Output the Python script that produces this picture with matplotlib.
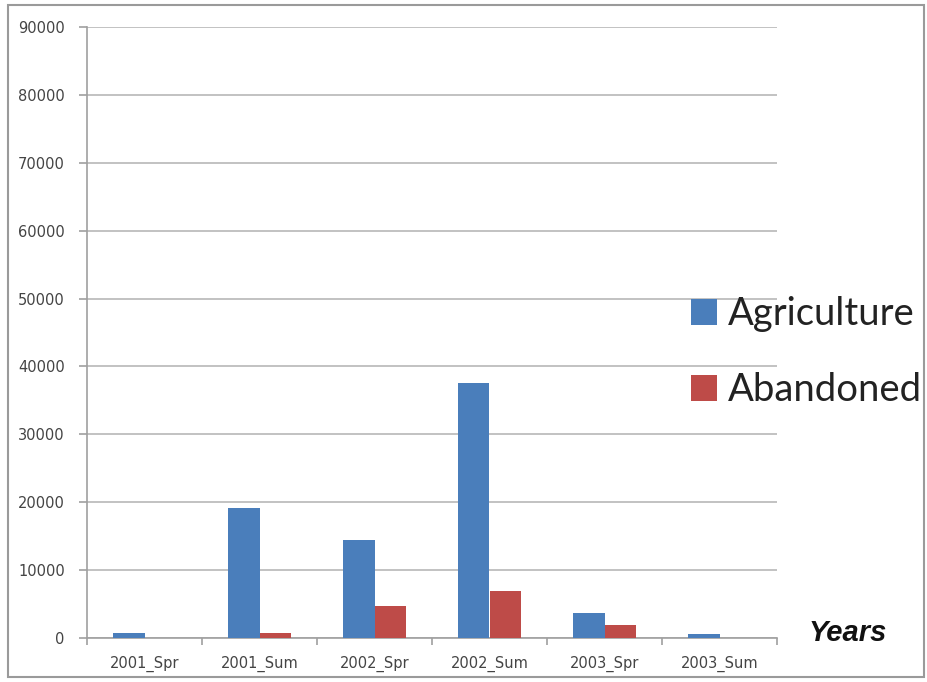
import matplotlib
matplotlib.use("Agg")
import matplotlib.pyplot as plt
import numpy as np
from matplotlib.patches import Rectangle

categories = ["2001_Spr", "2001_Sum", "2002_Spr", "2002_Sum", "2003_Spr", "2003_Sum"]
agriculture = [700, 19200, 14400, 37600, 3700, 600]
abandoned = [0, 750, 4700, 6900, 1900, 0]
yticks = [0, 10000, 20000, 30000, 40000, 50000, 60000, 70000, 80000, 90000]

blue = "#4a7ebb"
red = "#be4b48"
grid_c = "#b8b8b8"

W, H = 927, 682
fig = plt.figure(figsize=(W / 100, H / 100), dpi=100)

# outer chart frame
fig.patches.append(Rectangle((8 / W, 5 / H), (924 - 8) / W, (677 - 5) / H,
                             transform=fig.transFigure, fill=False,
                             edgecolor="#9a9a9a", linewidth=1.5))

x0, x1 = 87, 777
y0, y1 = 638, 27
ax = fig.add_axes([x0 / W, 1 - y0 / H, (x1 - x0) / W, (y0 - y1) / H])

n = len(categories)
x = np.arange(n)
bw = 0.275
ax.bar(x - bw / 2, agriculture, width=bw, color=blue, label="Agriculture", zorder=3)
ax.bar(x + bw / 2, abandoned, width=bw, color=red, label="Abandoned", zorder=3)

ax.set_xlim(-0.5, n - 0.5)
ax.set_ylim(0, 90000)
ax.set_yticks(yticks)
ax.set_yticklabels([str(v) for v in yticks])
ax.yaxis.grid(True, color=grid_c, linewidth=1.2, zorder=0)
ax.set_axisbelow(True)

for s in ["top", "right"]:
    ax.spines[s].set_visible(False)
for s in ["left", "bottom"]:
    ax.spines[s].set_color("#a0a0a0")
    ax.spines[s].set_linewidth(1.2)

ax.set_xticks(x)
ax.set_xticklabels(categories)
ax.set_xticks(np.arange(-0.5, n, 1), minor=True)
ax.tick_params(axis="x", which="major", length=0, pad=13, labelsize=10.5)
ax.tick_params(axis="x", which="minor", length=5, color="#a0a0a0", width=1.2)
ax.tick_params(axis="y", length=6, color="#a0a0a0", width=1.2, pad=10,
               labelsize=10.5)
for lab in ax.get_xticklabels() + ax.get_yticklabels():
    lab.set_color("#444444")

leg = fig.legend(loc="upper left", bbox_to_anchor=(657 / W, 1 - 262 / H),
                 frameon=False, handlelength=0.66, handleheight=0.66,
                 handletextpad=0.3, labelspacing=1.05,
                 prop={"family": "Lato", "size": 27.5})
for t in leg.get_texts():
    t.set_color("#222222")

fig.text(848 / W, 1 - 633 / H, "Years", ha="center", va="center",
         fontsize=21, fontweight="bold", fontstyle="italic",
         family="Liberation Sans", color="#111111")

fig.savefig("out.png", dpi=100)
